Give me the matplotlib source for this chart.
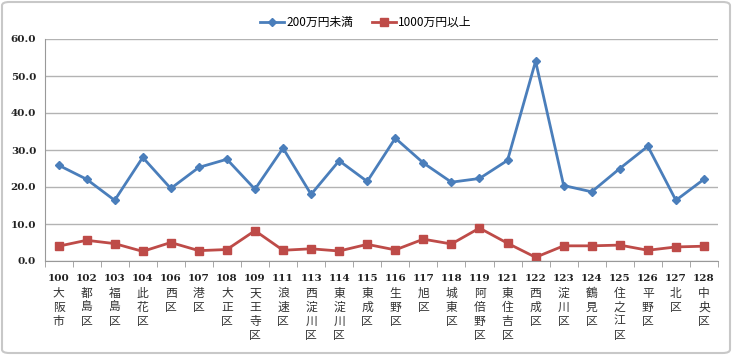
import matplotlib
matplotlib.use("Agg")
import matplotlib.pyplot as plt
from matplotlib.patches import FancyBboxPatch
import numpy as np

plt.rcParams["font.family"] = ["Noto Sans CJK JP", "DejaVu Sans"]

codes = ["100", "102", "103", "104", "106", "107", "108", "109", "111", "113",
         "114", "115", "116", "117", "118", "119", "121", "122", "123", "124",
         "125", "126", "127", "128"]
names = ["大阪市", "都島区", "福島区", "此花区", "西区", "港区", "大正区", "天王寺区",
         "浪速区", "西淀川区", "東淀川区", "東成区", "生野区", "旭区", "城東区",
         "阿倍野区", "東住吉区", "西成区", "淀川区", "鶴見区", "住之江区", "平野区",
         "北区", "中央区"]
under_200 = [25.9, 22.1, 16.4, 28.0, 19.6, 25.3, 27.5, 19.4, 30.5, 18.0,
             27.1, 21.5, 33.2, 26.5, 21.3, 22.3, 27.2, 54.0, 20.4, 18.7,
             25.0, 31.0, 16.4, 22.1]
over_1000 = [4.0, 5.6, 4.7, 2.6, 5.0, 2.8, 3.1, 8.2, 2.9, 3.3,
             2.7, 4.5, 3.0, 5.9, 4.6, 8.9, 4.8, 1.0, 4.1, 4.1,
             4.3, 2.9, 3.8, 4.0]

W, H = 732, 355
fig = plt.figure(figsize=(W / 100, H / 100), dpi=100)
fig.patches.append(FancyBboxPatch((2 / W, 2 / H), 1 - 4 / W, 1 - 4 / H,
                                  boxstyle="round,pad=0,rounding_size=0.01",
                                  transform=fig.transFigure, fill=False,
                                  edgecolor="#c8c8c8", linewidth=1.5))

ax = fig.add_axes([44.5 / W, 1 - 261 / H, (718 - 44.5) / W, (261 - 39) / H])
x = np.arange(len(codes))
ax.plot(x, under_200, color="#4a7ebb", lw=2, marker="D", ms=4.5, label="200万円未満")
ax.plot(x, over_1000, color="#be4b48", lw=2, marker="s", ms=6, label="1000万円以上")

ax.set_xlim(-0.5, len(codes) - 0.5)
ax.set_ylim(0, 60)
ax.set_yticks(np.arange(0, 61, 10))
ax.set_yticklabels([f"{v:.1f}" for v in range(0, 61, 10)], fontsize=7.5,
                   fontweight="bold", family="DejaVu Serif", color="#222222")
ax.yaxis.grid(True, color="#b3b3b3", lw=1)
ax.set_axisbelow(True)
ax.tick_params(axis="y", length=0, pad=6)

ax.set_xticks(x)
ax.set_xticklabels([])
ax.set_xticks(np.arange(-0.5, len(codes)), minor=True)
ax.tick_params(axis="x", which="major", length=0)
ax.tick_params(axis="x", which="minor", length=4, color="#999999")

for s in ["top", "right"]:
    ax.spines[s].set_visible(False)
for s in ["left", "bottom"]:
    ax.spines[s].set_color("#999999")

trans = ax.get_xaxis_transform()
for i, (c, n) in enumerate(zip(codes, names)):
    ax.text(i, -0.06, c, transform=trans, ha="center", va="top", fontsize=7.5,
            fontweight="bold", family="DejaVu Serif", color="#222222")
    ax.text(i, -0.115, "\n".join(n), transform=trans, ha="center", va="top",
            fontsize=8.5, linespacing=1.1, color="#333333")

fig.legend(loc="upper center", bbox_to_anchor=(0.5, 0.985), ncol=2, frameon=False,
           fontsize=8.5, handlelength=2.0, columnspacing=1.6, handletextpad=0.2)

fig.savefig("out.png", dpi=100)
